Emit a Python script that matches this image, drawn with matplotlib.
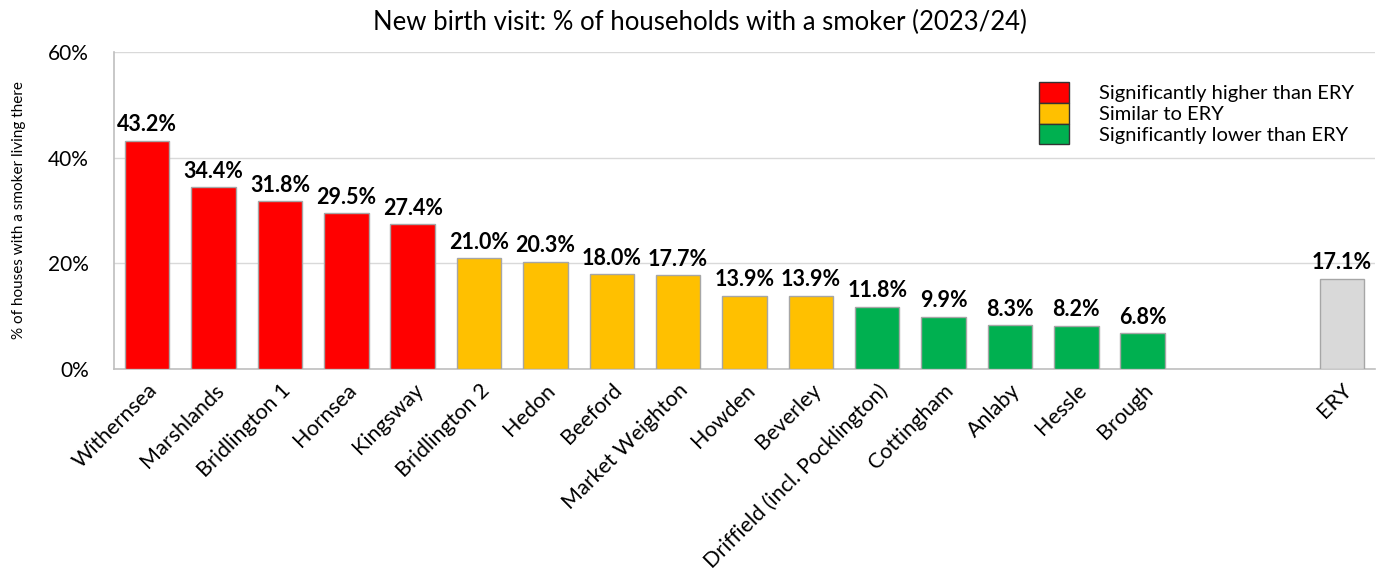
import matplotlib.pyplot as plt
from matplotlib.patches import Patch
from matplotlib.ticker import PercentFormatter

plt.rcParams['font.family'] = ['Lato', 'DejaVu Sans']

areas = ["Withernsea", "Marshlands", "Bridlington 1", "Hornsea", "Kingsway",
         "Bridlington 2", "Hedon", "Beeford", "Market Weighton", "Howden",
         "Beverley", "Driffield (incl. Pocklington)", "Cottingham", "Anlaby",
         "Hessle", "Brough"]
smoker_pct = [43.2, 34.4, 31.8, 29.5, 27.4, 21.0, 20.3, 18.0, 17.7, 13.9,
              13.9, 11.8, 9.9, 8.3, 8.2, 6.8]
significance = ["higher"] * 5 + ["similar"] * 6 + ["lower"] * 5
ery_label = "ERY"
ery_pct = 17.1

colours = {"higher": "#FF0000", "similar": "#FFC000", "lower": "#00B050"}
legend_text = {"higher": "Significantly higher than ERY",
               "similar": "Similar to ERY",
               "lower": "Significantly lower than ERY"}

fig = plt.figure(figsize=(13.86, 5.82), dpi=100)
ax = fig.add_axes([0.0823, 0.366, 0.9097, 0.5447])

x = list(range(len(areas)))
ery_x = len(areas) + 2
bar_w = 0.67

ax.bar(x, smoker_pct, width=bar_w,
       color=[colours[s] for s in significance],
       edgecolor="#A6A6A6", linewidth=1, zorder=3)
ax.bar([ery_x], [ery_pct], width=bar_w, color="#D9D9D9",
       edgecolor="#A6A6A6", linewidth=1, zorder=3)

for xi, v in zip(x + [ery_x], smoker_pct + [ery_pct]):
    ax.text(xi, v + 1.0, f"{v:.1f}%", ha="center", va="bottom",
            fontsize=15.5, fontweight="bold", color="black", zorder=4)

ax.set_xlim(-0.5, ery_x + 0.5)
ax.set_ylim(0, 60)
ax.set_yticks([0, 20, 40, 60])
ax.yaxis.set_major_formatter(PercentFormatter(decimals=0))
ax.set_xticks(x + [ery_x])
ax.set_xticklabels(areas + [ery_label], rotation=45, ha="right",
                   rotation_mode="anchor", fontsize=15.5)
ax.tick_params(axis="y", labelsize=15, length=0, pad=18)
ax.tick_params(axis="x", length=0, pad=8)

ax.grid(axis="y", color="#D9D9D9", linewidth=1, zorder=0)
for side in ["top", "right"]:
    ax.spines[side].set_visible(False)
for side in ["left", "bottom"]:
    ax.spines[side].set_color("#BFBFBF")
    ax.spines[side].set_linewidth(1.2)

ax.set_ylabel("% of houses with a smoker living there", fontsize=11,
              labelpad=16)
fig.text(0.505, 0.962, "New birth visit: % of households with a smoker (2023/24)",
         ha="center", va="center", fontsize=18.5)

handles = [Patch(facecolor=colours[k], edgecolor="#333333", linewidth=1)
           for k in ["higher", "similar", "lower"]]
ax.legend(handles, [legend_text[k] for k in ["higher", "similar", "lower"]],
          loc="upper right", bbox_to_anchor=(0.99, 0.93), frameon=False,
          fontsize=14.5, handlelength=1.5, handleheight=1.2,
          labelspacing=0.0, handletextpad=1.5, borderaxespad=0)

fig.savefig("out.png", dpi=100)
